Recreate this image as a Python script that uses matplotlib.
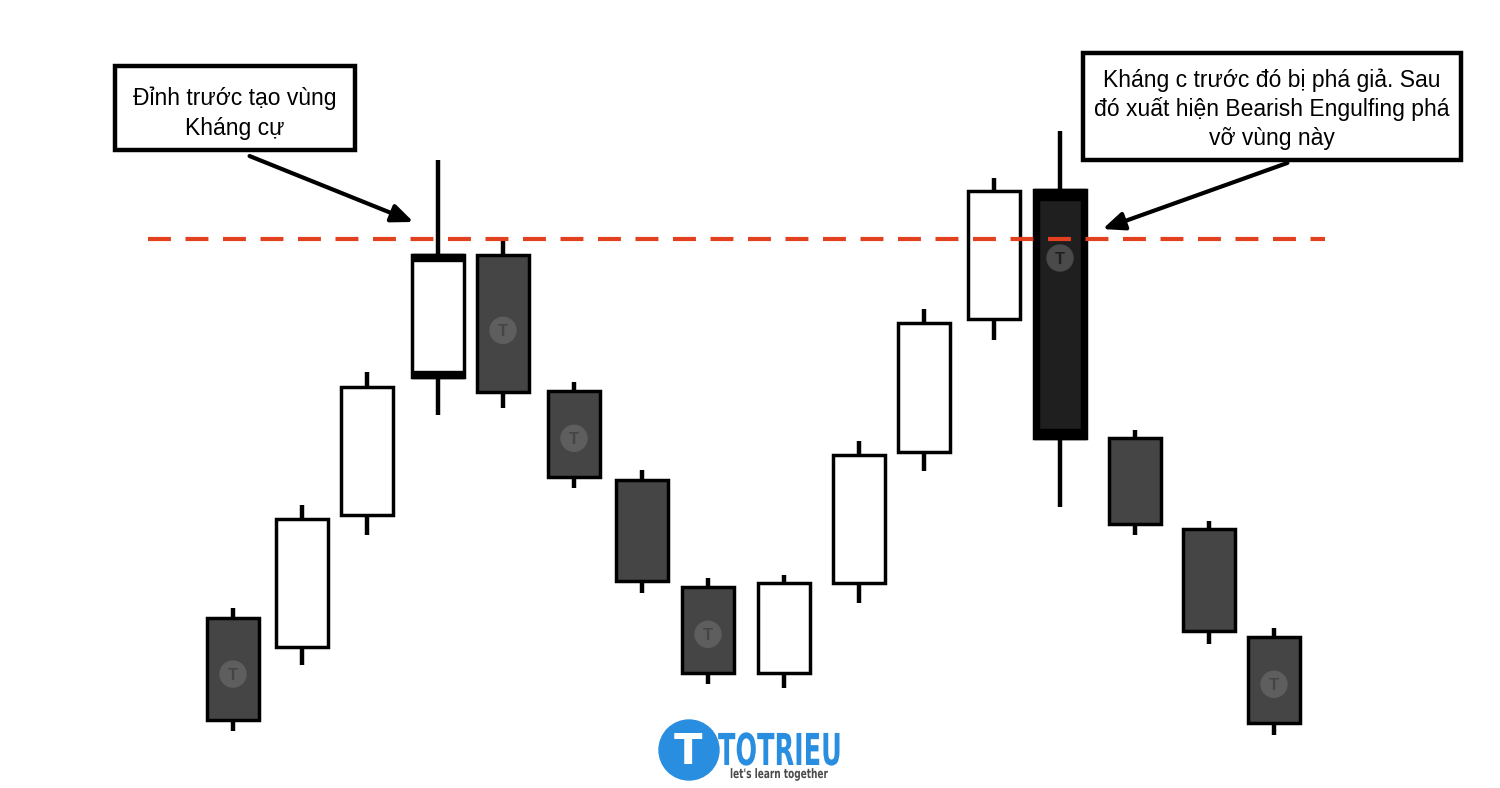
import matplotlib
matplotlib.use("Agg")
import matplotlib.pyplot as plt
from matplotlib.patches import Rectangle, Circle, PathPatch
from matplotlib.textpath import TextPath
from matplotlib.font_manager import FontProperties
from matplotlib.transforms import Affine2D

plt.rcParams['font.family'] = ['Liberation Sans', 'DejaVu Sans']

# candle data (price units)
bar_x = [233, 302, 367, 438, 503, 574, 642, 708, 784, 859, 924, 994, 1060, 1135, 1209, 1274]
opens = [170, 141, 273, 411, 533, 397, 308, 201, 115, 205, 336, 469, 598, 350, 259, 151]
closes = [68, 269, 401, 533, 396, 311, 207, 115, 205, 333, 465, 597, 350, 264, 157, 65]
highs = [180, 283, 416, 628, 548, 406, 318, 210, 213, 347, 479, 610, 657, 358, 267, 160]
lows = [57, 123, 253, 373, 380, 300, 195, 104, 100, 185, 317, 448, 281, 253, 144, 53]
watermark = [0, 4, 5, 7, 12, 15]
resistance = 549

note_left = "Đỉnh trước tạo vùng\nKháng cự"
note_right = "Kháng c trước đó bị phá giả. Sau\nđó xuất hiện Bearish Engulfing phá\nvỡ vùng này"

fig = plt.figure(figsize=(15, 7.88), dpi=100)
ax = fig.add_axes([0, 0, 1, 1])
ax.set_xlim(0, 1500)
ax.set_ylim(0, 788)
ax.axis('off')

w = 52
for i in range(len(bar_x)):
    x, o, c, h, l = bar_x[i], opens[i], closes[i], highs[i], lows[i]
    ax.plot([x, x], [l, h], color='black', lw=3.2, solid_capstyle='butt', zorder=1)
    bull = c > o
    face = 'white' if bull else '#454545'
    if i == 12:
        face = '#1f1f1f'
    lo, hi = min(o, c), max(o, c)
    ax.add_patch(Rectangle((x - w / 2, lo), w, hi - lo, facecolor=face,
                           edgecolor='black', lw=2.5, zorder=2))
    if i == 3:
        # heavy top/bottom edges
        ax.add_patch(Rectangle((x - w / 2, hi - 6), w, 7, color='black', zorder=3))
        ax.add_patch(Rectangle((x - w / 2, lo - 1), w, 7, color='black', zorder=3))
    if i == 12:
        ax.add_patch(Rectangle((x - w / 2, hi - 10), w, 11, color='black', zorder=3))
        ax.add_patch(Rectangle((x - w / 2, lo - 1), w, 10, color='black', zorder=3))
        ax.add_patch(Rectangle((x - w / 2, lo), 5, hi - lo, color='black', zorder=3))
        ax.add_patch(Rectangle((x + w / 2 - 5, lo), 5, hi - lo, color='black', zorder=3))
    if i in watermark:
        cy = hi - 0.55 * (hi - lo) if i != 12 else hi - 68
        if i in (0, 15, 7):
            cy = lo + 0.45 * (hi - lo)
        wm_face = '#5e5e5e' if i != 12 else '#4a4a4a'
        ax.add_patch(Circle((x, cy), 13, color=wm_face, zorder=4))
        ax.text(x, cy - 1, 'T', color=face, fontsize=12, fontweight='bold',
                ha='center', va='center', zorder=5)

# resistance line
ax.plot([148, 1325], [resistance, resistance], color='#e2401f', lw=3,
        dashes=(5.5, 3.5), zorder=6)

# annotation boxes
ax.add_patch(Rectangle((115, 788 - 150), 240, 84, facecolor='white', edgecolor='black', lw=3.2, zorder=7))
ax.text(235, 788 - 113, note_left, ha='center', va='center', fontsize=16.5,
        linespacing=1.38, zorder=8)
ax.add_patch(Rectangle((1083, 788 - 160), 378, 107, facecolor='white', edgecolor='black', lw=3.2, zorder=7))
ax.text(1272, 788 - 109, note_right, ha='center', va='center', fontsize=16.5,
        linespacing=1.3, zorder=8)

arrow = dict(arrowstyle='-|>,head_length=1.3,head_width=0.55', color='black', lw=3)
ax.annotate('', xy=(416, 788 - 223), xytext=(247, 788 - 155), arrowprops=arrow, zorder=8)
ax.annotate('', xy=(1100, 788 - 230), xytext=(1290, 788 - 162), arrowprops=arrow, zorder=8)

# logo
blue = '#2a8ee0'
ax.add_patch(Circle((689, 788 - 750), 30, color=blue, zorder=9))
ax.text(688, 788 - 752, 'T', color='white', fontsize=30, fontweight='bold',
        ha='center', va='center', family=['DejaVu Sans'], zorder=10)


def squeezed_text(s, x0, y0, size, sx, color):
    fp = FontProperties(family='DejaVu Sans', weight='bold')
    tp = TextPath((0, 0), s, size=size, prop=fp)
    tr = Affine2D().scale(sx, 1).translate(x0, y0)
    ax.add_patch(PathPatch(tr.transform_path(tp), facecolor=color, edgecolor='none', zorder=10))


squeezed_text('TOTRIEU', 718, 788 - 765, 44, 0.58, blue)
squeezed_text("let's learn together", 730, 788 - 778, 13, 0.69, '#4a4a4a')

fig.savefig('out.png', dpi=100)
